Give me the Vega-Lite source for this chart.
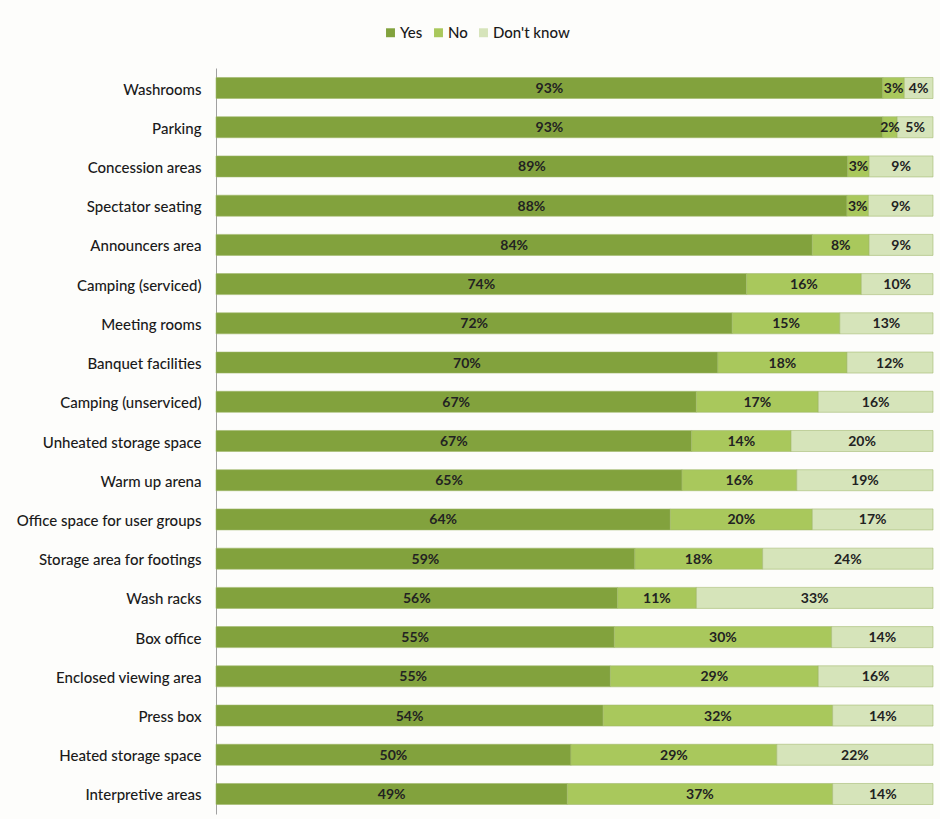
{
  "$schema": "https://vega.github.io/schema/vega-lite/v6.json",
  "autosize": "none",
  "width": 717,
  "height": 746,
  "padding": {"left": 216, "top": 68, "right": 7, "bottom": 5},
  "background": "#fdfdfb",
  "config": {"view": {"stroke": null}},
  "data": {
    "values": [
      {"item": "Washrooms", "answer": "Yes", "share": 0.93}, {"item": "Washrooms", "answer": "No", "share": 0.03}, {"item": "Washrooms", "answer": "Don't know", "share": 0.04},
      {"item": "Parking", "answer": "Yes", "share": 0.93}, {"item": "Parking", "answer": "No", "share": 0.02}, {"item": "Parking", "answer": "Don't know", "share": 0.05},
      {"item": "Concession areas", "answer": "Yes", "share": 0.89}, {"item": "Concession areas", "answer": "No", "share": 0.03}, {"item": "Concession areas", "answer": "Don't know", "share": 0.09},
      {"item": "Spectator seating", "answer": "Yes", "share": 0.88}, {"item": "Spectator seating", "answer": "No", "share": 0.03}, {"item": "Spectator seating", "answer": "Don't know", "share": 0.09},
      {"item": "Announcers area", "answer": "Yes", "share": 0.84}, {"item": "Announcers area", "answer": "No", "share": 0.08}, {"item": "Announcers area", "answer": "Don't know", "share": 0.09},
      {"item": "Camping (serviced)", "answer": "Yes", "share": 0.74}, {"item": "Camping (serviced)", "answer": "No", "share": 0.16}, {"item": "Camping (serviced)", "answer": "Don't know", "share": 0.10},
      {"item": "Meeting rooms", "answer": "Yes", "share": 0.72}, {"item": "Meeting rooms", "answer": "No", "share": 0.15}, {"item": "Meeting rooms", "answer": "Don't know", "share": 0.13},
      {"item": "Banquet facilities", "answer": "Yes", "share": 0.70}, {"item": "Banquet facilities", "answer": "No", "share": 0.18}, {"item": "Banquet facilities", "answer": "Don't know", "share": 0.12},
      {"item": "Camping (unserviced)", "answer": "Yes", "share": 0.67}, {"item": "Camping (unserviced)", "answer": "No", "share": 0.17}, {"item": "Camping (unserviced)", "answer": "Don't know", "share": 0.16},
      {"item": "Unheated storage space", "answer": "Yes", "share": 0.67}, {"item": "Unheated storage space", "answer": "No", "share": 0.14}, {"item": "Unheated storage space", "answer": "Don't know", "share": 0.20},
      {"item": "Warm up arena", "answer": "Yes", "share": 0.65}, {"item": "Warm up arena", "answer": "No", "share": 0.16}, {"item": "Warm up arena", "answer": "Don't know", "share": 0.19},
      {"item": "Office space for user groups", "answer": "Yes", "share": 0.64}, {"item": "Office space for user groups", "answer": "No", "share": 0.20}, {"item": "Office space for user groups", "answer": "Don't know", "share": 0.17},
      {"item": "Storage area for footings", "answer": "Yes", "share": 0.59}, {"item": "Storage area for footings", "answer": "No", "share": 0.18}, {"item": "Storage area for footings", "answer": "Don't know", "share": 0.24},
      {"item": "Wash racks", "answer": "Yes", "share": 0.56}, {"item": "Wash racks", "answer": "No", "share": 0.11}, {"item": "Wash racks", "answer": "Don't know", "share": 0.33},
      {"item": "Box office", "answer": "Yes", "share": 0.55}, {"item": "Box office", "answer": "No", "share": 0.30}, {"item": "Box office", "answer": "Don't know", "share": 0.14},
      {"item": "Enclosed viewing area", "answer": "Yes", "share": 0.55}, {"item": "Enclosed viewing area", "answer": "No", "share": 0.29}, {"item": "Enclosed viewing area", "answer": "Don't know", "share": 0.16},
      {"item": "Press box", "answer": "Yes", "share": 0.54}, {"item": "Press box", "answer": "No", "share": 0.32}, {"item": "Press box", "answer": "Don't know", "share": 0.14},
      {"item": "Heated storage space", "answer": "Yes", "share": 0.50}, {"item": "Heated storage space", "answer": "No", "share": 0.29}, {"item": "Heated storage space", "answer": "Don't know", "share": 0.22},
      {"item": "Interpretive areas", "answer": "Yes", "share": 0.49}, {"item": "Interpretive areas", "answer": "No", "share": 0.37}, {"item": "Interpretive areas", "answer": "Don't know", "share": 0.14}
    ]
  },
  "encoding": {
    "y": {
      "field": "item",
      "type": "nominal",
      "sort": null,
      "title": null,
      "scale": {"paddingInner": 0.464, "paddingOuter": 0.242},
      "axis": {
        "domain": true,
        "domainColor": "#a0a0a0",
        "domainWidth": 1,
        "ticks": false,
        "labelPadding": 15,
        "labelLimit": 260,
        "labelOffset": 1.5,
        "labelFont": "Lato",
        "labelFontSize": 15,
        "labelColor": "#1a1a1a",
        "labelFontWeight": 500
      }
    },
    "order": {"field": "answer", "sort": "descending"}
  },
  "layer": [
    {
      "mark": {"type": "bar", "stroke": "#9fb86a", "strokeWidth": 0.8, "strokeOpacity": 0.7},
      "encoding": {
        "x": {
          "field": "share",
          "type": "quantitative",
          "stack": "normalize",
          "axis": null,
          "scale": {"nice": false}
        },
        "color": {
          "field": "answer",
          "type": "nominal",
          "scale": {
            "domain": ["Yes", "No", "Don't know"],
            "range": ["#82a23d", "#a9c85c", "#d6e4ba"]
          },
          "legend": {
            "title": null,
            "orient": "none",
            "direction": "horizontal",
            "legendX": 167,
            "legendY": -43,
            "symbolType": "square",
            "symbolSize": 80,
            "symbolStrokeWidth": 0,
            "labelFont": "Lato",
            "labelFontSize": 15,
            "labelFontWeight": 500,
            "labelColor": "#1a1a1a",
            "labelOffset": 2,
            "columnPadding": 8
          }
        }
      }
    },
    {
      "mark": {"type": "text", "font": "Lato", "fontSize": 14, "fontWeight": "bold", "color": "#222222", "baseline": "middle", "align": "center", "dy": 1},
      "encoding": {
        "x": {
          "field": "share",
          "type": "quantitative",
          "stack": "normalize",
          "bandPosition": 0.5
        },
        "text": {"field": "share", "type": "quantitative", "format": ".0%"},
        "detail": {"field": "answer"}
      }
    }
  ]
}
